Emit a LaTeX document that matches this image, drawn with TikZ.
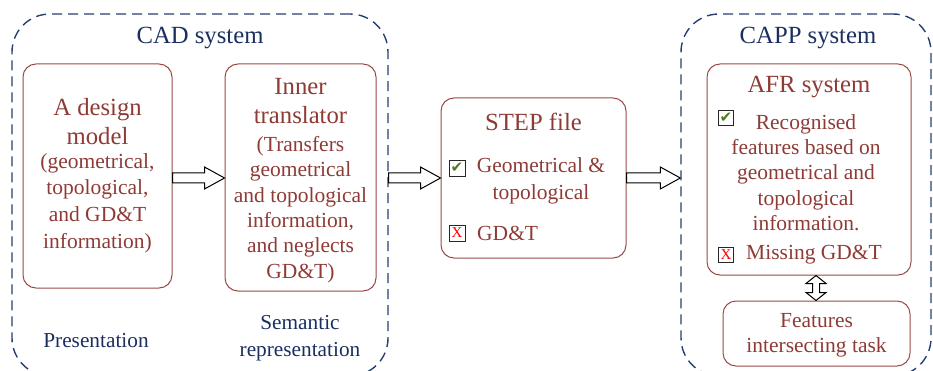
\documentclass[tikz,border=0pt]{standalone}
\usepackage{fontspec}
\setmainfont{Liberation Serif}
\newfontfamily\symfont{DejaVu Sans}
\usetikzlibrary{calc}

\definecolor{framecol}{HTML}{263F70}
\definecolor{navytxt}{HTML}{1B2F5E}
\definecolor{boxcol}{HTML}{9A4A45}
\definecolor{redtxt}{HTML}{8E3B36}
\definecolor{tickgreen}{HTML}{4E7A1E}

\tikzset{
  sysframe/.style={draw=framecol, dash pattern=on 10pt off 6pt, line width=1.4pt, rounded corners=38pt},
  unitbox/.style={draw=boxcol, line width=1pt, rounded corners=13pt},
  headtxt/.style={text=redtxt, font=\fontsize{24.7}{29}\selectfont, align=center, inner sep=0pt},
  bodytxt/.style={text=redtxt, font=\fontsize{21.5}{25.4}\selectfont, align=center, inner sep=0pt},
  navylbl/.style={text=navytxt, font=\fontsize{21.3}{27}\selectfont, align=center, inner sep=0pt},
  hollow/.style={draw=black, line width=1pt, fill=white},
  tickbox/.style={draw=black!85, line width=0.9pt, minimum size=16pt, inner sep=0pt},
}

% hollow block arrow, left to right
\newcommand{\blockarrow}[2]{%
  \draw[hollow] let \p1=(#1), \p2=(#2) in
    (\x1,\y1+5pt) -- (\x2-20pt,\y1+5pt) -- (\x2-20pt,\y1+11pt) -- (\x2,\y1)
    -- (\x2-20pt,\y1-11pt) -- (\x2-20pt,\y1-5pt) -- (\x1,\y1-5pt) -- cycle;}
\newcommand{\oktick}{\symfont\fontsize{15}{15}\selectfont\textcolor{tickgreen}{✔}}
\newcommand{\notick}{\fontsize{15}{15}\selectfont\textcolor{red}{X}}

\begin{document}
\begin{tikzpicture}[x=1pt,y=-1pt]
  \useasboundingbox (0,0) rectangle (933,371);
  \clip (0,0) rectangle (933,371);

  % system frames
  \node[sysframe, minimum width=376pt, minimum height=362pt] (cad) at (200,195) {};
  \node[sysframe, minimum width=250pt, minimum height=362pt] (capp) at (806,195) {};
  \node[navylbl, font=\fontsize{24.7}{29}\selectfont] (cadlbl) at (200,38) {CAD system};
  \node[navylbl, font=\fontsize{24.7}{29}\selectfont] (capplbl) at (808,38) {CAPP system};
  \node[navylbl] (pres) at (96,341) {Presentation};
  \node[navylbl] (sem) at (300,338) {Semantic\\representation};

  % boxes
  \node[unitbox, minimum width=149pt, minimum height=224pt] (design) at (97.5,176) {};
  \node[unitbox, minimum width=151pt, minimum height=227pt] (inner) at (300.5,177.5) {};
  \node[unitbox, minimum width=185pt, minimum height=160pt] (step) at (533.5,178) {};
  \node[unitbox, minimum width=204pt, minimum height=211pt] (afr) at (809,169.5) {};
  \node[unitbox, minimum width=187pt, minimum height=65pt] (fit) at (816.5,333.5) {};

  % texts in the boxes
  \node[headtxt] (designhead) at (97.5,122) {A design\\model};
  \node[bodytxt, font=\fontsize{21.5}{26.7}\selectfont] (designbody) at (97.5,203)
    {(geometrical,\\topological,\\and GD\&T\\information)};
  \node[headtxt] (innerhead) at (300.5,101.5) {Inner\\translator};
  \node[bodytxt] (innerbody) at (300.5,209.5)
    {(Transfers\\geometrical\\and topological\\information,\\and neglects\\GD\&T)};
  \node[headtxt] (stephead) at (533.5,122) {STEP file};
  \node[tickbox] (stepok) at (457,168) {\oktick};
  \node[bodytxt, font=\fontsize{21.5}{27}\selectfont] (stepgeo) at (541,181) {Geometrical \&\\topological};
  \node[tickbox] (stepno) at (457,233) {\notick};
  \node[bodytxt, anchor=west] (stepgdt) at (477,233) {GD\&T};
  \node[headtxt] (afrhead) at (809,87) {AFR system};
  \node[tickbox, minimum size=15pt] (afrok) at (726,118) {\oktick};
  \node[bodytxt] (afrbody) at (806,172.5)
    {Recognised\\features based on\\geometrical and\\topological\\information.};
  \node[tickbox, minimum size=15pt] (afrno) at (726,255) {\notick};
  \node[bodytxt] (afrgdt) at (814,255) {Missing GD\&T};
  \node[bodytxt] (fittxt) at (816.5,335) {Features\\intersecting task};

  % arrows
  \blockarrow{design.east |- 0,178}{inner.west |- 0,178}
  \blockarrow{cad.east |- 0,178}{step.west |- 0,178}
  \blockarrow{step.east |- 0,178}{capp.west |- 0,178}
  \draw[hollow] let \p1=(afr.south -| 816,0), \p2=(fit.north -| 816,0) in
    (\x1,\y1) -- (\x1+10pt,\y1-8pt) -- (\x1+3.5pt,\y1-8pt) -- (\x1+3.5pt,\y2+8pt)
    -- (\x1+10pt,\y2+8pt) -- (\x2,\y2) -- (\x1-10pt,\y2+8pt) -- (\x1-3.5pt,\y2+8pt)
    -- (\x1-3.5pt,\y1-8pt) -- (\x1-10pt,\y1-8pt) -- cycle;
\end{tikzpicture}
\end{document}
